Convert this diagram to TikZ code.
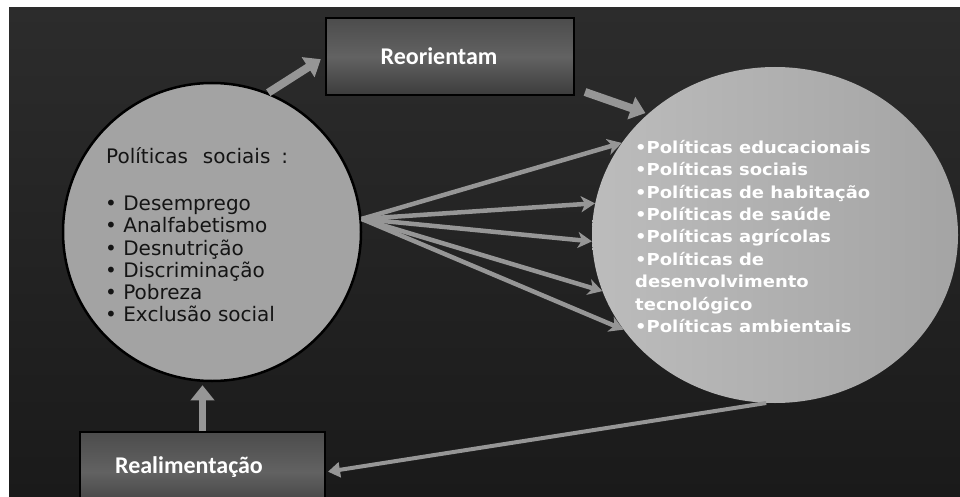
\documentclass[tikz,border=0pt]{standalone}
\usepackage{fontspec}
\setmainfont{DejaVu Sans}
\newfontfamily\labelfont{Carlito}
\newfontfamily\listfont[FakeStretch=1.09]{DejaVu Sans Bold}
\usetikzlibrary{arrows.meta,calc,shapes.geometric}

\definecolor{bgtop}{RGB}{44,44,44}
\definecolor{bgmid}{RGB}{70,70,70}
\definecolor{bgbot}{RGB}{26,26,26}
\definecolor{boxtop}{RGB}{76,76,76}
\definecolor{boxmid}{RGB}{98,98,98}
\definecolor{boxbot}{RGB}{60,60,60}
\definecolor{discfill}{RGB}{163,163,163}
\definecolor{ovalleft}{RGB}{188,188,188}
\definecolor{ovalright}{RGB}{164,164,164}
\definecolor{arrowgray}{RGB}{150,150,150}
\definecolor{inktext}{RGB}{20,20,20}

\tikzset{
  panel/.style={draw=black, line width=2pt, rectangle, inner sep=0pt,
    top color=boxtop, bottom color=boxbot, middle color=boxmid},
  paneltext/.style={text=white, font=\labelfont\bfseries\fontsize{24}{24}\selectfont, inner sep=0pt},
  bigarrow/.style={draw=arrowgray, line width=8pt, -{Triangle[length=15pt,width=23pt]}},
  fanarrow/.style={draw=arrowgray, line width=4.5pt, -{Stealth[length=14pt,width=16pt,inset=4pt]}},
  backarrow/.style={draw=arrowgray, line width=4pt, -{Triangle[length=12pt,width=15pt]}},
}

\begin{document}
\begin{tikzpicture}[x=1pt,y=-1pt]
\useasboundingbox (0,0) rectangle (960,497);
\fill[white] (0,0) rectangle (960,497);
% dark backdrop
\shade[top color=bgtop, middle color=bgmid, bottom color=bgbot] (9,8) rectangle (960,497);

% the two discs
\node[circle, draw=black, line width=2.5pt, fill=discfill, minimum size=298pt, inner sep=0pt] (ls) at (212,232) {};
\node[ellipse, left color=ovalleft, right color=ovalright, minimum width=366pt, minimum height=336pt, inner sep=0pt] (rs) at (775,235) {};

% the two panels
\node[panel, minimum width=248pt, minimum height=77pt] (reo) at (450,56.5) {};
\begin{scope}
\clip (0,0) rectangle (960,497);
\node[panel, minimum width=245pt, minimum height=80pt] (real) at (202.5,472) {};
\end{scope}
\node[paneltext, anchor=base] (reotxt) at (439,65) {Reorientam};
\node[paneltext, anchor=base] (realtxt) at (189,473) {Realimentação};

% texts in the discs
\node[anchor=west, inner sep=0pt, text=inktext, font=\fontsize{20}{22}\selectfont] (lstitle) at (106,156) {Políticas\hspace{0.75em}sociais\hspace{0.55em}:};
\node[anchor=north west, inner sep=0pt, align=left, text=inktext, font=\fontsize{20}{22.2}\selectfont] (lslist) at (105,196)
  {• Desemprego\\• Analfabetismo\\• Desnutrição\\• Discriminação\\• Pobreza\\• Exclusão social};
\node[anchor=north west, inner sep=0pt, align=left, text=white, font=\listfont\fontsize{16.5}{22.4}\selectfont] (rslist) at (635,140)
  {•Políticas educacionais\\•Políticas sociais\\•Políticas de habitação\\•Políticas de saúde\\•Políticas agrícolas\\•Políticas de\\desenvolvimento\\tecnológico\\•Políticas ambientais};

% connectors
\draw[bigarrow, shorten >=5pt] (ls.68) -- (reo.west);
\draw[bigarrow] ([xshift=10pt,yshift=4pt]reo.south east) -- ([yshift=3pt]rs.north west);
\draw[bigarrow, line width=7pt, shorten >=3pt] (real.north) -- (real.north |- ls.south);
\draw[backarrow, shorten >=2pt] (rs.-93) -- (real.east);
\foreach \a in {149,170,182,-162,-148}
  \draw[fanarrow] (ls.5) -- (rs.\a);
\end{tikzpicture}
\end{document}
